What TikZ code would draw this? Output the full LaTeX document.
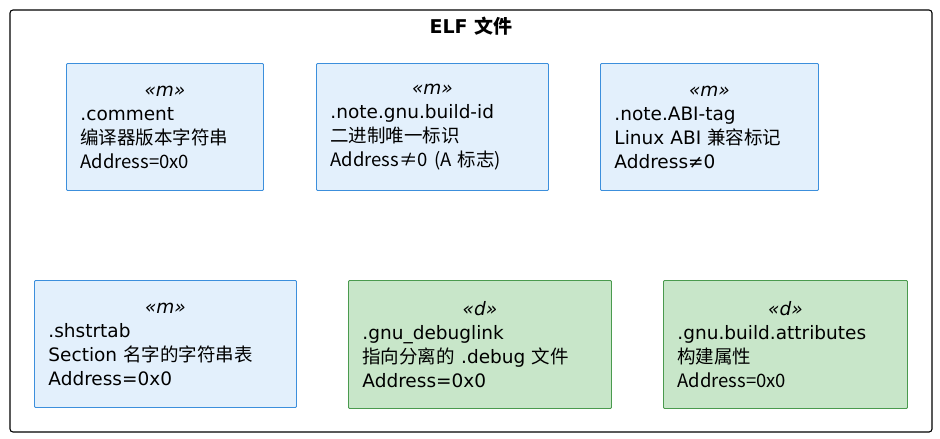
\documentclass[tikz,border=0pt]{standalone}
\usepackage{fontspec}
\setmainfont{DejaVu Sans}
\newfontfamily\cjk{Noto Sans CJK SC}
\definecolor{mfill}{HTML}{E3F0FC}
\definecolor{mdraw}{HTML}{3C8FDC}
\definecolor{dfill}{HTML}{C8E6C9}
\definecolor{ddraw}{HTML}{4A9A4E}
\newcommand{\sect}[4]{{\centering\textit{«#1»}\par}#2\\#3\\#4}
\begin{document}
\begin{tikzpicture}[x=1pt,y=-1pt,
   every node/.style={font=\fontsize{18.5}{24}\selectfont},
   sectbox/.style={rectangle,rounded corners=1pt,anchor=north west,line width=0.9pt,
      text width=#1-28pt,inner xsep=14pt,inner ysep=5pt,align=left},
   mbox/.style={sectbox=#1,fill=mfill,draw=mdraw,minimum height=127pt},
   dbox/.style={sectbox=#1,fill=dfill,draw=ddraw,minimum height=128pt}]
   \useasboundingbox (0,0) rectangle (940,439);
   \draw[rounded corners=3pt,line width=1.1pt] (10,10) rectangle (932,432);
   \node[font=\fontsize{19}{22}\selectfont\bfseries] (title) at (471,26) {ELF {\cjk 文件}};
   % upper row
   \node[mbox=197pt] (comment) at (66,63)
      {\sect{m}{.comment}{\cjk 编译器版本字符串}{Address=0x0}};
   \node[mbox=232pt] (buildid) at (316,63)
      {\sect{m}{.note.gnu.build-id}{\cjk 二进制唯一标识}{Address≠0 (A {\cjk 标志})}};
   \node[mbox=218pt] (abitag) at (600,63)
      {\sect{m}{.note.ABI-tag}{Linux ABI {\cjk 兼容标记}}{Address≠0}};
   % lower row
   \node[mbox=262pt] (shstrtab) at (34,280)
      {\sect{m}{.shstrtab}{Section {\cjk 名字的字符串表}}{Address=0x0}};
   \node[dbox=263pt] (debuglink) at (348,280)
      {\sect{d}{.gnu\_debuglink}{{\cjk 指向分离的} .debug {\cjk 文件}}{Address=0x0}};
   \node[dbox=244pt] (attrs) at (663,280)
      {\sect{d}{.gnu.build.attributes}{\cjk 构建属性}{Address=0x0}};
\end{tikzpicture}
\end{document}
